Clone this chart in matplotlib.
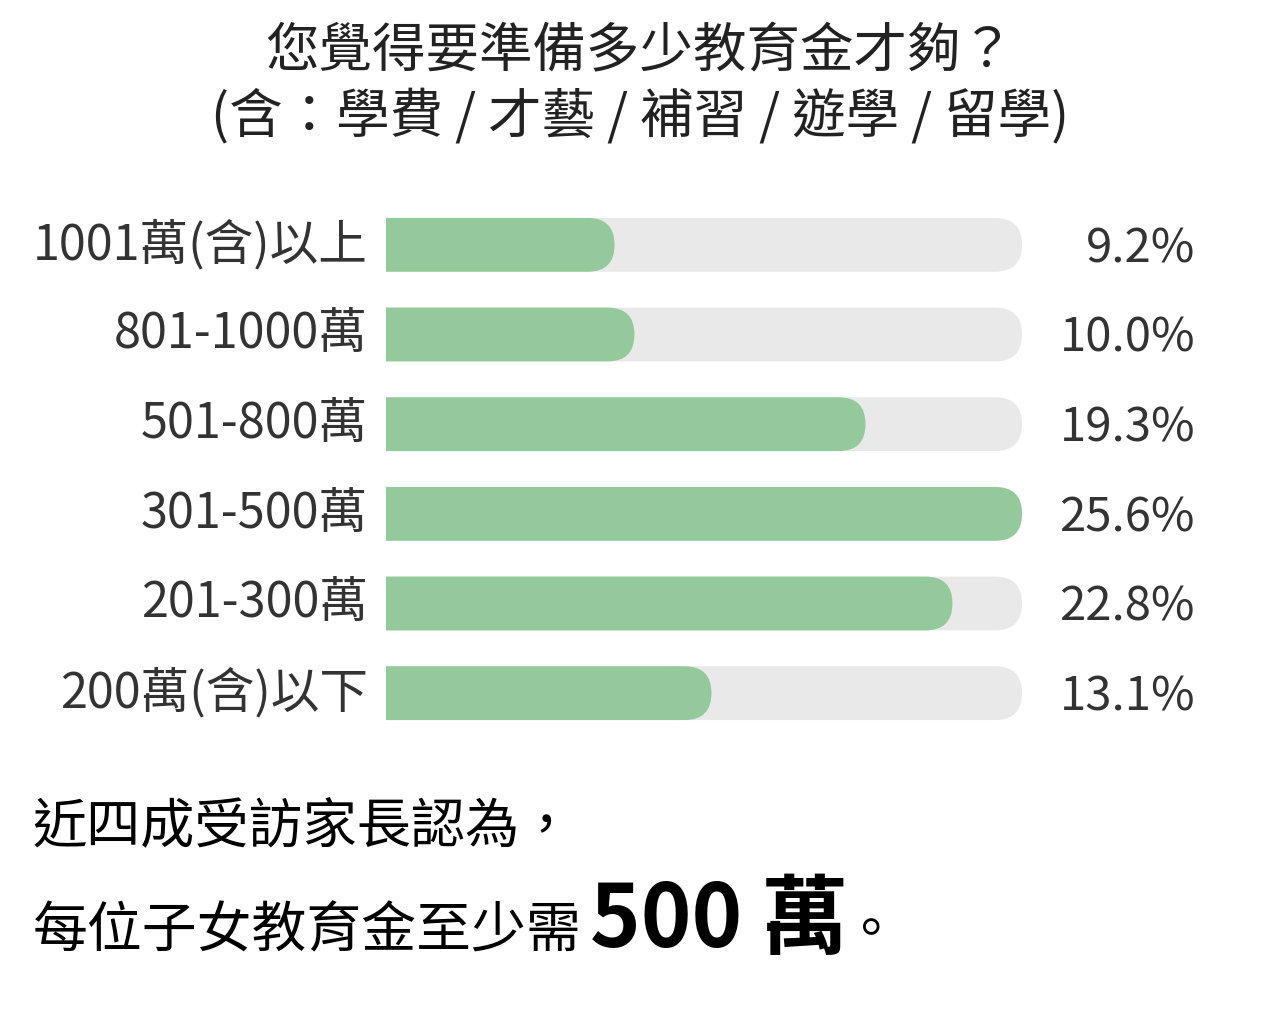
import matplotlib
matplotlib.use("Agg")
import matplotlib.pyplot as plt
from matplotlib.patches import FancyBboxPatch

plt.rcParams['font.family'] = ['Noto Sans CJK TC', 'DejaVu Sans']

# 資料
categories = ['1001萬(含)以上', '801-1000萬', '501-800萬', '301-500萬', '201-300萬', '200萬(含)以下']
percents = [9.2, 10.0, 19.3, 25.6, 22.8, 13.1]
title_lines = ['您覺得要準備多少教育金才夠？', '(含：學費 / 才藝 / 補習 / 遊學 / 留學)']
note_line1 = '近四成受訪家長認為，'
note_line2 = '每位子女教育金至少需'
note_big = '500 萬'
note_end = '。'

W, H = 1280, 1035
fig = plt.figure(figsize=(W / 100, H / 100), dpi=100)
fig.patch.set_facecolor('white')

# 長條區 (像素)
ax_left, ax_right = 386, 1022
ax_top, ax_bottom = 200, 738
ax = fig.add_axes([ax_left / W, 1 - ax_bottom / H, (ax_right - ax_left) / W, (ax_bottom - ax_top) / H])
xmax = max(percents)
ax.set_xlim(0, xmax)
ax.set_ylim(len(categories) - 0.5, -0.5)
ax.axis('off')

bar_h = 0.6
px_x = (ax_right - ax_left) / xmax
px_y = (ax_bottom - ax_top) / len(categories)
radius_px = bar_h * px_y / 2
r = radius_px / px_x
aspect = px_x / px_y

for i, (cat, v) in enumerate(zip(categories, percents)):
    track = FancyBboxPatch((-r * 2, i - bar_h / 2), xmax + r * 2, bar_h,
                           boxstyle=f"round,pad=0,rounding_size={r}",
                           mutation_aspect=aspect, fc='#e9e9e9', ec='none')
    ax.add_patch(track)
    bar = FancyBboxPatch((-r * 2, i - bar_h / 2), v + r * 2, bar_h,
                         boxstyle=f"round,pad=0,rounding_size={r}",
                         mutation_aspect=aspect, fc='#93c99b', ec='none')
    ax.add_patch(bar)
    y_fig = 1 - (ax_top + (i + 0.5) * px_y) / H
    fig.text(368 / W, y_fig, cat, ha='right', va='center', fontsize=35, color='#333333')
    fig.text(1195 / W, y_fig - 4 / H, f'{v:.1f}%', ha='right', va='center', fontsize=34, color='#333333')

# 標題
fig.text(0.5, 1 - 52 / H, title_lines[0], ha='center', va='center', fontsize=38.5, color='#222222')
fig.text(0.5, 1 - 116 / H, title_lines[1], ha='center', va='center', fontsize=38.5, color='#222222')

# 說明文字
fig.text(33 / W, 1 - 828 / H, note_line1, ha='left', va='center', fontsize=39, color='black')
t2 = fig.text(33 / W, 1 - 932 / H, note_line2, ha='left', va='center', fontsize=39.5, color='black')
renderer = fig.canvas.get_renderer()
bb = t2.get_window_extent(renderer)
t3 = fig.text((bb.x1 + 8) / W, 1 - 922 / H, note_big, ha='left', va='center',
              fontsize=62, fontweight='bold', color='black')
bb3 = t3.get_window_extent(renderer)
fig.text((bb3.x1 - 4) / W, 1 - 932 / H, note_end, ha='left', va='center', fontsize=39, color='black')

fig.savefig('out.png', dpi=100, facecolor='white')
